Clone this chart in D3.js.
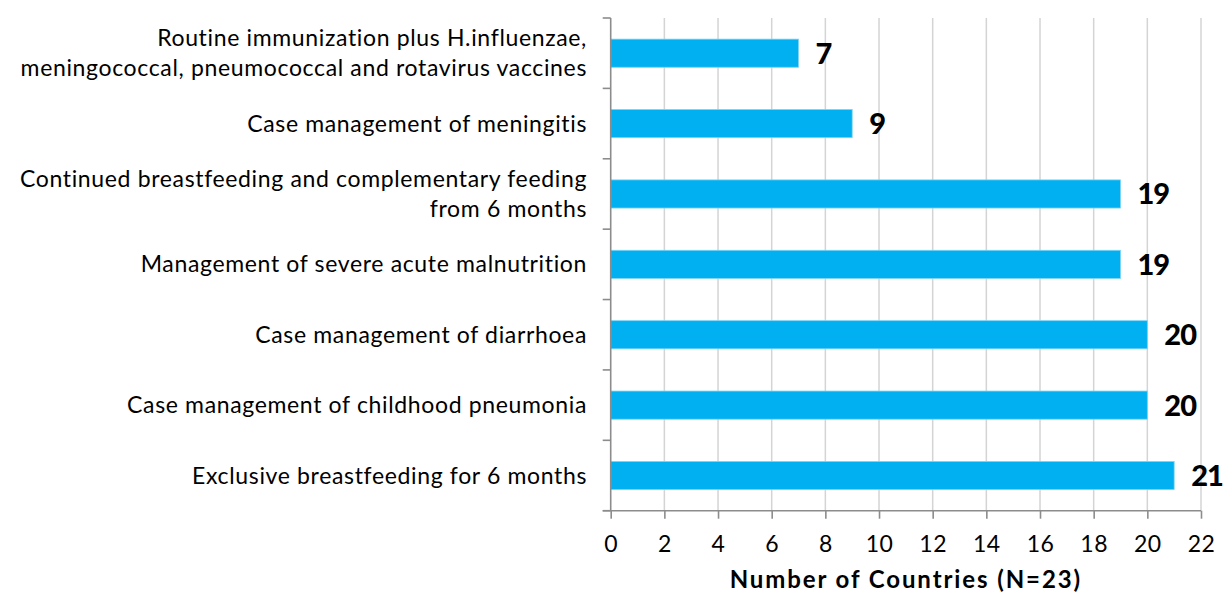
<!DOCTYPE html>
<html>
<head>
<meta charset="utf-8">
<script src="https://cdn.jsdelivr.net/npm/d3@7"></script>
<style>
  body { margin: 0; background: #fff; }
  text { font-family: Lato, "Open Sans", sans-serif; fill: #000; font-variant-ligatures: none; }
</style>
</head>
<body>
<div id="chart"></div>
<script>
// data
var categories = [
  ["Routine immunization plus H.influenzae,", "meningococcal, pneumococcal and rotavirus vaccines"],
  ["Case management of meningitis"],
  ["Continued breastfeeding and complementary feeding", "from 6 months"],
  ["Management of severe acute malnutrition"],
  ["Case management of diarrhoea"],
  ["Case management of childhood pneumonia"],
  ["Exclusive breastfeeding for 6 months"]
];
var values = [7, 9, 19, 19, 20, 20, 21];
var xTicks = [0, 2, 4, 6, 8, 10, 12, 14, 16, 18, 20, 22];
var xTitle = "Number of Countries (N=23)";

var W = 1223, H = 595;
var plotL = 610.7, plotR = 1201, plotT = 18, plotB = 510.7;
var axisColor = "#8c8c8c";

var svg = d3.select("#chart").append("svg")
    .attr("width", W)
    .attr("height", H);

var x = d3.scaleLinear()
    .domain([0, 22])
    .range([plotL, plotR]);

var y = d3.scaleBand()
    .domain(d3.range(categories.length))
    .range([plotT, plotB])
    .paddingInner(0.6)
    .paddingOuter(0.3);

// gridlines
svg.append("g")
  .selectAll("line")
  .data(xTicks.slice(1))
  .enter().append("line")
    .attr("x1", d => x(d))
    .attr("x2", d => x(d))
    .attr("y1", plotT)
    .attr("y2", plotB)
    .attr("stroke", "#d4d4d4")
    .attr("stroke-width", 1.5);

// bars
svg.append("g")
  .selectAll("rect")
  .data(values)
  .enter().append("rect")
    .attr("x", x(0))
    .attr("y", (d, i) => y(i))
    .attr("width", d => x(d) - x(0))
    .attr("height", y.bandwidth())
    .attr("fill", "#00b0f0")
    .attr("stroke", "#7fd4f6")
    .attr("stroke-width", 0.8);

// value labels
svg.append("g")
  .selectAll("text")
  .data(values)
  .enter().append("text")
    .attr("x", d => x(d) + 17)
    .attr("y", (d, i) => y(i) + y.bandwidth() / 2)
    .attr("dy", "0.36em")
    .style("font-size", "29px")
    .style("font-weight", "900")
    .style("letter-spacing", "-1px")
    .text(d => d);

// y axis, ticks sit on the band boundaries
var bounds = d3.range(categories.length + 1).map(i => plotT + i * (plotB - plotT) / categories.length);
var yAxis = svg.append("g");
yAxis.append("line")
    .attr("x1", plotL).attr("x2", plotL)
    .attr("y1", plotT).attr("y2", plotB)
    .attr("stroke", axisColor).attr("stroke-width", 1.6);
yAxis.selectAll("line.tk")
  .data(bounds)
  .enter().append("line")
    .attr("class", "tk")
    .attr("x1", plotL - 8).attr("x2", plotL)
    .attr("y1", d => d).attr("y2", d => d)
    .attr("stroke", axisColor).attr("stroke-width", 1.6);

// category labels
var lab = svg.append("g")
  .selectAll("text")
  .data(categories)
  .enter().append("text")
    .attr("text-anchor", "end")
    .style("font-size", "23px")
    .style("letter-spacing", "0.65px")
    .attr("transform", (d, i) => "translate(587," + (y(i) + y.bandwidth() / 2) + ")");
lab.selectAll("tspan")
  .data(d => d.map((t, j) => ({t: t, j: j, n: d.length})))
  .enter().append("tspan")
    .attr("x", 0)
    .attr("y", d => (d.j - (d.n - 1) / 2) * 30)
    .attr("dy", "0.35em")
    .text(d => d.t);

// x axis
var xAxis = svg.append("g")
    .attr("transform", "translate(0," + plotB + ")")
    .call(d3.axisBottom(x).tickValues(xTicks).tickSize(8).tickPadding(17).tickSizeOuter(0));
xAxis.select(".domain").attr("stroke", axisColor).attr("stroke-width", 1.6)
    .attr("d", "M" + (plotL - 8) + ",0H" + plotR);
xAxis.selectAll(".tick line").attr("stroke", axisColor).attr("stroke-width", 1.6);
xAxis.selectAll(".tick text")
    .style("font-family", "Lato, sans-serif")
    .style("font-size", "23px")
    .style("letter-spacing", "0.5px")
    .attr("fill", "#000");

svg.append("text")
    .attr("x", (plotL + plotR) / 2)
    .attr("y", 588)
    .attr("text-anchor", "middle")
    .style("font-size", "24px")
    .style("font-weight", "bold")
    .style("letter-spacing", "1.9px")
    .text(xTitle);
</script>
</body>
</html>
